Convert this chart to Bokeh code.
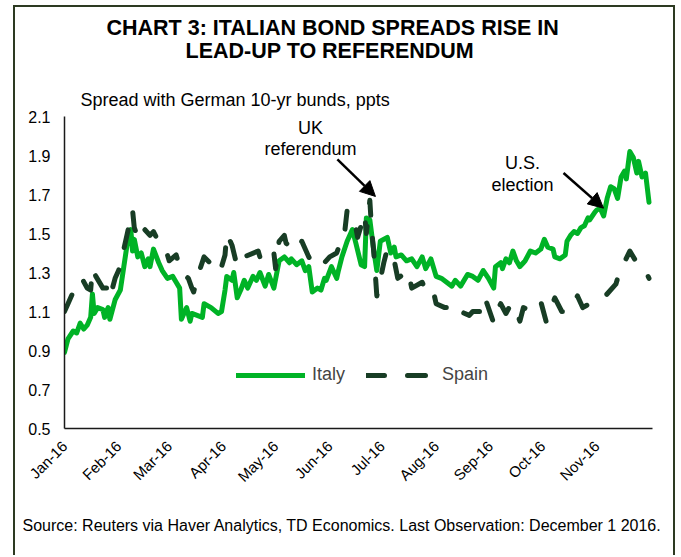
import math
import pandas as pd
from bokeh.plotting import figure
from bokeh.models import (Range1d, FixedTicker, NumeralTickFormatter, DatetimeTickFormatter,
                          Label, Legend, LegendItem, Arrow, NormalHead, ColumnDataSource, Title)
from bokeh.embed import file_html
from bokeh.resources import INLINE

# ---------------- data (days since 2016-01-01, spread in ppts) ----------------
italy_day = [0, 2, 5, 7, 9, 11, 13, 15, 16, 17,
             19, 22, 23, 25, 26, 29, 32, 34, 36, 38,
             39, 40, 42, 44, 46, 48, 49, 51, 54, 56,
             59, 62, 64, 66, 67, 70, 72, 73, 76, 79,
             80, 84, 88, 90, 92, 93, 96, 97, 99, 101,
             103, 105, 108, 110, 112, 115, 117, 120, 123, 126,
             129, 130, 133, 136, 138, 140, 142, 145, 147, 149,
             150, 153, 156, 157, 159, 162, 165, 167, 170, 172,
             173, 175, 177, 179, 181, 185, 187, 189, 190, 193,
             196, 199, 202, 205, 207, 210, 213, 216, 219, 222,
             224, 227, 231, 234, 237, 240, 243, 246, 247, 250,
             251, 253, 255, 257, 259, 261, 263, 264, 267, 270,
             273, 275, 277, 280, 281, 284, 287, 288, 290, 292,
             294, 296, 298, 300, 301, 304, 305, 307, 309, 311,
             313, 315, 317, 319, 321, 322, 324, 326, 328, 329,
             331, 333, 335]
italy_val = [0.89, 0.96, 1.00, 0.99, 1.04, 1.01, 1.03, 1.07, 1.19, 1.09,
             1.12, 1.11, 1.07, 1.12, 1.06, 1.16, 1.21, 1.33, 1.45, 1.52,
             1.41, 1.47, 1.38, 1.40, 1.33, 1.37, 1.33, 1.42, 1.35, 1.31,
             1.27, 1.28, 1.25, 1.22, 1.06, 1.12, 1.05, 1.09, 1.08, 1.07,
             1.14, 1.12, 1.09, 1.10, 1.21, 1.28, 1.26, 1.30, 1.17, 1.21,
             1.26, 1.22, 1.28, 1.26, 1.30, 1.23, 1.29, 1.22, 1.36, 1.38,
             1.35, 1.37, 1.34, 1.36, 1.31, 1.33, 1.20, 1.22, 1.21, 1.27,
             1.26, 1.33, 1.27, 1.31, 1.38, 1.46, 1.52, 1.45, 1.34, 1.33,
             1.58, 1.57, 1.43, 1.31, 1.46, 1.48, 1.40, 1.43, 1.38, 1.39,
             1.36, 1.37, 1.33, 1.38, 1.32, 1.37, 1.28, 1.27, 1.25, 1.23,
             1.26, 1.23, 1.29, 1.28, 1.26, 1.31, 1.27, 1.22, 1.33, 1.35,
             1.32, 1.37, 1.35, 1.41, 1.36, 1.33, 1.35, 1.36, 1.41, 1.40,
             1.42, 1.47, 1.43, 1.42, 1.38, 1.37, 1.39, 1.46, 1.49, 1.51,
             1.50, 1.53, 1.54, 1.58, 1.57, 1.61, 1.62, 1.63, 1.59, 1.68,
             1.74, 1.73, 1.68, 1.79, 1.82, 1.78, 1.92, 1.89, 1.81, 1.87,
             1.79, 1.81, 1.66]

spain_day = [0, 2, 3, 6, 10, 13, 15, 16, 18, 22,
             25, 26, 29, 31, 34, 36, 39, 40, 42, 43,
             46, 49, 51, 56, 59, 60, 64, 66, 67, 71,
             73, 74, 77, 80, 89, 92, 93, 96, 99, 103,
             111, 113, 120, 121, 123, 126, 127, 133, 136, 140,
             143, 149, 152, 156, 158, 160, 162, 164, 167, 168,
             172, 173, 175, 176, 177, 178, 179, 183, 185, 189,
             191, 197, 199, 205, 207, 211, 213, 218, 221, 223,
             227, 232, 234, 240, 241, 246, 247, 250, 253, 256,
             259, 261, 263, 268, 273, 276, 278, 281, 285, 288,
             294, 297, 303, 307, 310, 316, 318, 324, 328, 332,
             335]
spain_val = [1.10, 1.14, 1.16, 1.22, 1.27, 1.22, 1.21, 1.32, 1.28, 1.22,
             1.22, 1.17, 1.27, 1.31, 1.42, 1.50, 1.62, 1.53, 1.48, 1.53,
             1.52, 1.49, 1.51, 1.42, 1.39, 1.36, 1.39, 1.33, 1.30, 1.27,
             1.22, 1.20, 1.30, 1.38, 1.30, 1.39, 1.50, 1.44, 1.33, 1.38,
             1.41, 1.35, 1.40, 1.32, 1.46, 1.49, 1.45, 1.41, 1.46, 1.38,
             1.33, 1.35, 1.38, 1.40, 1.45, 1.46, 1.62, 1.59, 1.53, 1.48,
             1.60, 1.50, 1.67, 1.52, 1.43, 1.31, 1.18, 1.35, 1.42, 1.36,
             1.27, 1.31, 1.22, 1.25, 1.21, 1.22, 1.14, 1.12, 1.12, 1.14,
             1.10, 1.08, 1.10, 1.10, 1.17, 1.04, 1.09, 1.14, 1.09, 1.14,
             1.10, 1.05, 1.12, 1.10, 1.15, 1.05, 1.10, 1.17, 1.10, 1.10,
             1.18, 1.12, 1.15, 1.17, 1.18, 1.24, 1.30, 1.41, 1.35, 1.33,
             1.27]

month_ticks = ["2016-01-01", "2016-02-01", "2016-03-01", "2016-04-01", "2016-05-01",
               "2016-06-01", "2016-07-01", "2016-08-01", "2016-09-01", "2016-10-01",
               "2016-11-01"]
y_ticks = [0.5, 0.7, 0.9, 1.1, 1.3, 1.5, 1.7, 1.9, 2.1]

# annotation arrows: (day start, value start, day end, value end)
uk_arrow = (156.4, 1.88, 178.2, 1.69)
us_arrow = (286.0, 1.81, 308.9, 1.63)

ITALY_COLOR = "#00b326"
SPAIN_COLOR = "#183d25"
FONT = "Liberation Sans"
BORDER = "2px solid #2d3a22"

BASE = pd.Timestamp("2016-01-01")


def to_dates(days):
    return [BASE + pd.Timedelta(days=d) for d in days]


def to_ms(day):
    return (BASE + pd.Timedelta(days=day)).value / 1e6


src_it = ColumnDataSource(dict(date=to_dates(italy_day), val=italy_val))
src_sp = ColumnDataSource(dict(date=to_dates(spain_day), val=spain_val))

p = figure(frame_width=588, frame_height=312, x_axis_type="datetime",
           output_backend="svg", toolbar_location=None,
           x_range=Range1d(BASE, pd.Timestamp("2016-12-03")),
           y_range=Range1d(0.5, 2.1),
           min_border_left=49, min_border_right=21, min_border_top=109, min_border_bottom=127)
p.styles = {"border-left": BORDER, "border-top": BORDER, "border-right": BORDER,
            "margin-left": "13px", "margin-top": "5px"}

p.xgrid.visible = False
p.ygrid.visible = False
p.outline_line_color = None
p.background_fill_color = "white"
p.border_fill_color = "white"

# axes
for ax in (p.xaxis[0], p.yaxis[0]):
    ax.axis_line_color = "#1a1a1a"
    ax.axis_line_width = 1.5
    ax.major_tick_in = 0
    ax.major_tick_out = 0
    ax.minor_tick_in = 0
    ax.minor_tick_out = 0
    ax.major_label_text_font = FONT
    ax.major_label_text_color = "black"

p.xaxis.ticker = FixedTicker(ticks=[pd.Timestamp(t).value / 1e6 for t in month_ticks])
fmt = "%b-%y"
p.xaxis.formatter = DatetimeTickFormatter(milliseconds=fmt, seconds=fmt, minsec=fmt, minutes=fmt,
                                          hourmin=fmt, hours=fmt, days=fmt, months=fmt, years=fmt)
p.xaxis.major_label_orientation = math.pi / 4
p.xaxis.major_label_text_font_size = "15px"
p.xaxis.major_label_standoff = 15

p.yaxis.ticker = FixedTicker(ticks=y_ticks)
p.yaxis.formatter = NumeralTickFormatter(format="0.0")
p.yaxis.major_label_text_font_size = "16px"
p.yaxis.major_label_standoff = 14

# series
r_it = p.line(x="date", y="val", source=src_it, line_color=ITALY_COLOR, line_width=5,
              line_join="round", line_cap="round")
r_sp = p.line(x="date", y="val", source=src_sp, line_color=SPAIN_COLOR, line_width=5,
              line_join="round", line_cap="round", line_dash="18 23")

legend = Legend(items=[LegendItem(label="Italy", renderers=[r_it]),
                       LegendItem(label="Spain", renderers=[r_sp])],
                orientation="horizontal", location=(172, 43),
                glyph_width=69, glyph_height=20, label_height=20, label_standoff=7,
                spacing=21, padding=0, margin=0, border_line_color=None,
                background_fill_alpha=0, label_text_font=FONT, label_text_font_size="18px")
p.add_layout(legend, "center")

# titles stacked above the frame (first added is closest to the frame)
p.add_layout(Title(text="Spread with German 10-yr bunds, ppts", align="left", offset=16,
                   standoff=13, text_font=FONT, text_font_size="18px",
                   text_font_style="normal", text_color="black"), "above")
p.add_layout(Title(text="LEAD-UP TO REFERENDUM", align="left", offset=121, standoff=38,
                   text_font=FONT, text_font_size="21.5px", text_font_style="bold",
                   text_color="black"), "above")
p.add_layout(Title(text="CHART 3: ITALIAN BOND SPREADS RISE IN", align="left", offset=42,
                   standoff=-44, text_font=FONT, text_font_size="21.5px", text_font_style="bold",
                   text_color="black"), "above")
p.add_layout(Title(text="Source: Reuters via Haver Analytics, TD Economics. Last Observation: December 1 2016.",
                   align="left", offset=-42, standoff=43, text_font=FONT, text_font_size="16px",
                   text_font_style="normal", text_color="black"), "below")


def lab(x, y, text, size="18px"):
    p.add_layout(Label(x=x, y=y, x_units="screen", y_units="screen", text=text,
                       text_font=FONT, text_font_size=size, text_font_style="normal",
                       text_align="center", text_baseline="middle", text_color="black"))


# event annotations (screen positions relative to the plot frame)
lab(246, 301, "UK")
lab(246, 280, "referendum")
lab(458, 266, "U.S.")
lab(458, 244, "election")

for a in (uk_arrow, us_arrow):
    p.add_layout(Arrow(end=NormalHead(size=15, fill_color="black", line_color="black"),
                       x_start=to_ms(a[0]), y_start=a[1], x_end=to_ms(a[2]), y_end=a[3],
                       line_color="black", line_width=2.5))

open("out.html", "w").write(file_html(p, INLINE))
